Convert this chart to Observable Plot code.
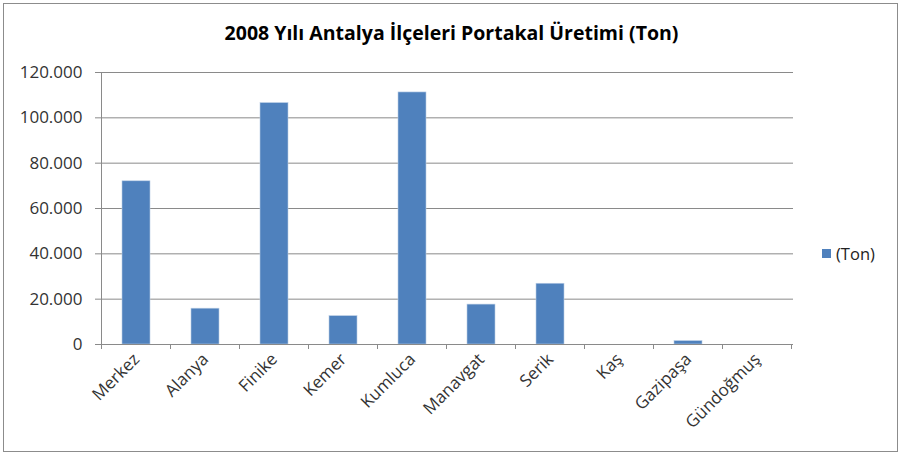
<!DOCTYPE html>
<html>
<head>
<meta charset="utf-8">
<script src="https://cdn.jsdelivr.net/npm/d3@7"></script>
<script src="https://cdn.jsdelivr.net/npm/@observablehq/plot@0.6"></script>
<style>
  html, body { margin: 0; padding: 0; background: #fff; }
  #wrap { position: relative; width: 903px; height: 455px; overflow: hidden; font-family: "Open Sans", sans-serif; }
  #frame { position: absolute; left: 3px; top: 3px; width: 893px; height: 447px; border: 1px solid #8c8c8c; }
  #title { position: absolute; left: 0; top: 19px; width: 903px; text-align: center; font-weight: bold; font-size: 19.5px; color: #000; }
  #legend { position: absolute; left: 822px; top: 242px; font-size: 16.5px; color: #222; display: flex; align-items: center; }
  #legend .sw { width: 9px; height: 9px; background: #4F81BD; margin-right: 5px; }
  #chart { position: absolute; left: 0; top: 0; }
</style>
</head>
<body>
<div id="wrap">
  <div id="frame"></div>
  <div id="chart"></div>
  <div id="title">2008 Yılı Antalya İlçeleri Portakal Üretimi (Ton)</div>
  <div id="legend"><div class="sw"></div><span>(Ton)</span></div>
</div>
<script>
const districts = ["Merkez", "Alanya", "Finike", "Kemer", "Kumluca", "Manavgat", "Serik", "Kaş", "Gazipaşa", "Gündoğmuş"];
const tons = [72000, 15800, 106500, 12500, 111200, 17600, 26800, 0, 1500, 0];
const yTicks = [0, 20000, 40000, 60000, 80000, 100000, 120000];

const data = districts.map((d, i) => ({district: d, value: tons[i]}));
const trLocale = d3.formatLocale({decimal: ",", thousands: ".", grouping: [3], currency: ["", " TL"]});
const fmt = trLocale.format(",d");

const chart = Plot.plot({
  width: 903,
  height: 455,
  marginLeft: 99,
  marginRight: 110,
  marginTop: 72,
  marginBottom: 111,
  style: {fontFamily: "Open Sans, sans-serif", fontSize: "16px", color: "#333", background: "transparent"},
  x: {domain: districts, paddingInner: 0.6, paddingOuter: 0.3, label: null},
  y: {domain: [0, 120000], label: null},
  marks: [
    Plot.gridY(yTicks, {stroke: "#8a8a8a", strokeOpacity: 1}),
    Plot.axisY(yTicks, {tickFormat: fmt, tickSize: 4, tickPadding: 13, stroke: "#8a8a8a", fill: "#333", label: null, fontSize: 17}),
    Plot.barY(data, {x: "district", y: "value", fill: "#4F81BD", stroke: "#b9cde5", strokeWidth: 0.6}),
    Plot.axisX({tickRotate: -45, tickSize: 0, tickPadding: 12, fill: "#333", label: null, fontSize: 17}),
    Plot.ruleY([0], {stroke: "#8a8a8a"})
  ]
});
document.getElementById("chart").appendChild(chart);

// Excel-style category boundary ticks and left axis line, positioned from the Plot scales
const xs = chart.scale("x");
const ys = chart.scale("y");
const step = xs.step;
const y0 = ys.apply(0);
const y1 = ys.apply(120000);
const g = d3.select(chart).append("g").attr("stroke", "#8a8a8a").attr("shape-rendering", "crispEdges");
const leftEdge = xs.apply(districts[0]) - step * xs.paddingOuter;
for (let i = 0; i <= districts.length; i++) {
  const px = leftEdge + i * step;
  g.append("line").attr("x1", px).attr("x2", px).attr("y1", y0).attr("y2", y0 + 5);
}
g.append("line").attr("x1", leftEdge).attr("x2", leftEdge).attr("y1", y1).attr("y2", y0);
</script>
</body>
</html>
